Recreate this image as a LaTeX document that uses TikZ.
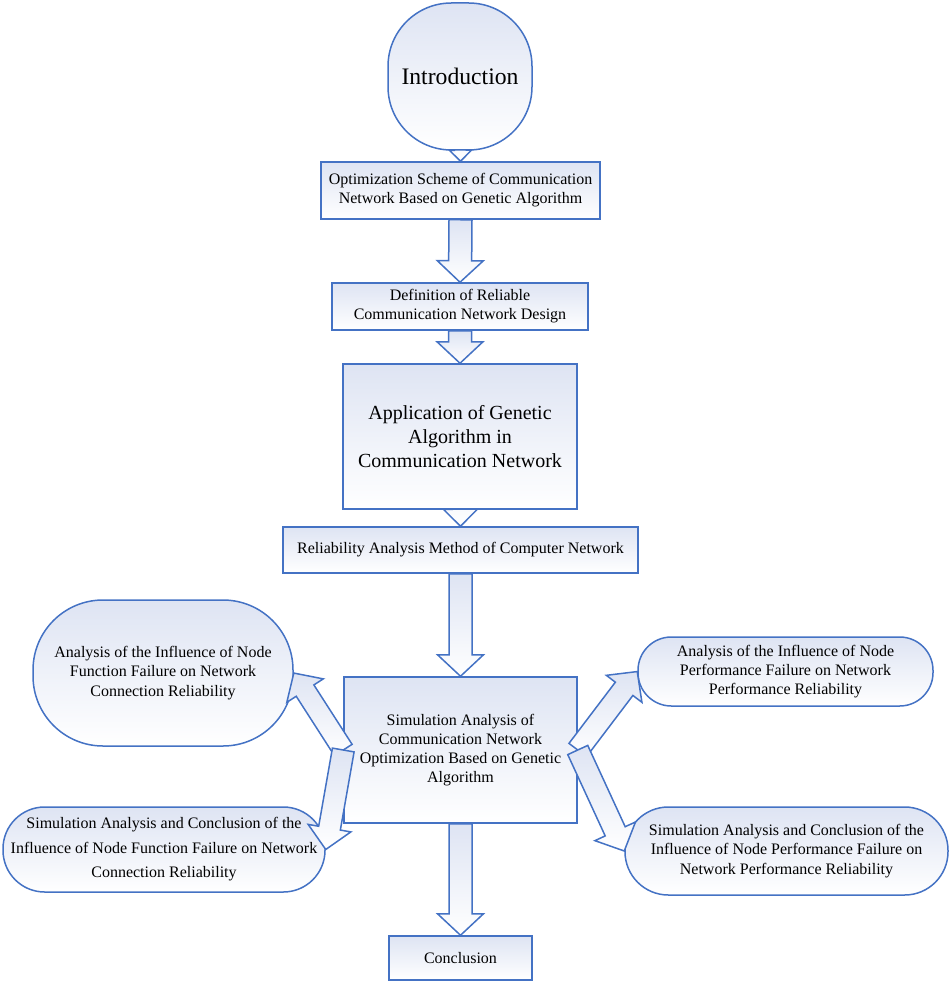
\documentclass[tikz,border=0pt]{standalone}
\usepackage{fontspec}
\setmainfont{Liberation Serif}
\usetikzlibrary{calc,backgrounds}

\definecolor{lineblue}{RGB}{68,114,196}
\definecolor{filltop}{RGB}{222,228,243}

\tikzset{
  box/.style={draw=lineblue, line width=0.9pt, top color=filltop, bottom color=white,
    align=center, inner sep=2pt, font=\fontsize{9.6}{11.5}\selectfont},
  roundbox/.style={box, rounded corners=#1},
  arrowbody/.style={draw=lineblue, line width=0.9pt, top color=filltop, bottom color=white,
    line join=miter},
}

% from, to, shaft half width, head half width, head length (in pt)
\newcommand{\blockarrow}[5]{%
  \draw[arrowbody] let \p1=($(#2)-(#1)$), \n1={atan2(\y1,\x1)}, \n2={veclen(\x1,\y1)} in
    [shift={(#1)}, rotate=\n1]
    (0pt,{#3*1pt}) -- ({(\n2-#5)*1pt},{#3*1pt}) -- ({(\n2-#5)*1pt},{#4*1pt})
    -- ({\n2*1pt},0pt) -- ({(\n2-#5)*1pt},{-#4*1pt}) -- ({(\n2-#5)*1pt},{-#3*1pt})
    -- (0pt,{-#3*1pt}) -- cycle;
}

\begin{document}
\begin{tikzpicture}[x=0.6pt, y=-0.6pt]
    \useasboundingbox (0,0) rectangle (950,983);

    \node[roundbox=38pt, minimum width=86.4pt, minimum height=88.2pt,
      font=\fontsize{14.2}{17}\selectfont] (intro) at (460,76.5) {Introduction};
    \node[box, minimum width=167.4pt, minimum height=34.2pt] (opt) at (460.5,190.5)
      {Optimization Scheme of Communication\\Network Based on Genetic Algorithm};
    \node[box, minimum width=153.6pt, minimum height=28.2pt] (defn) at (460,306.5)
      {Definition of Reliable\\Communication Network Design};
    \node[box, minimum width=140.4pt, minimum height=87pt,
      font=\fontsize{12}{14.5}\selectfont] (appl) at (460,436.5)
      {Application of Genetic\\Algorithm in\\Communication Network};
    \node[box, minimum width=213pt, minimum height=27.6pt] (relia) at (460.5,550)
      {Reliability Analysis Method of Computer Network};
    \node[box, minimum width=139.8pt, minimum height=87.6pt] (sim) at (460.5,750)
      {Simulation Analysis of\\Communication Network\\Optimization Based on Genetic\\Algorithm};
    \node[box, minimum width=85.8pt, minimum height=26.4pt] (concl) at (460.5,958) {Conclusion};

    \node[roundbox=42pt, minimum width=156pt, minimum height=87.6pt] (funcfail) at (163,673)
      {Analysis of the Influence of Node\\Function Failure on Network\\Connection Reliability};
    \node[roundbox=25pt, minimum width=193.2pt, minimum height=51pt,
      font=\fontsize{9.6}{14.7}\selectfont] (funcsim) at (164,849.5)
      {Simulation Analysis and Conclusion of the\\Influence of Node Function Failure on Network\\Connection Reliability};
    \node[roundbox=20pt, minimum width=177pt, minimum height=41.4pt] (perffail) at (785.5,671.5)
      {Analysis of the Influence of Node\\Performance Failure on Network\\Performance Reliability};
    \node[roundbox=26pt, minimum width=193.8pt, minimum height=52.8pt] (perfsim) at (786.5,851)
      {Simulation Analysis and Conclusion of the\\Influence of Node Performance Failure on\\Network Performance Reliability};

    \begin{scope}[on background layer]
        \blockarrow{intro.center}{opt.north}{3.6}{6.6}{6.6}
        \blockarrow{opt.south}{defn.north}{6.9}{13.8}{12.9}
        \blockarrow{defn.south}{appl.north}{6.9}{13.8}{12.9}
        \blockarrow{appl.center}{relia.north}{5}{10.2}{10.2}
        \blockarrow{relia.south}{sim.north}{6.9}{13.8}{12.9}
        \blockarrow{sim.south}{concl.north}{6.9}{13.8}{12.9}
    \end{scope}
    \blockarrow{sim.west}{funcfail.east}{6.3}{13}{12.5}
    \blockarrow{sim.west}{funcsim.east}{6.6}{13}{13}
    \blockarrow{sim.east}{perffail.west}{6.6}{13.4}{13}
    \blockarrow{sim.east}{perfsim.west}{6.6}{13.4}{13}
\end{tikzpicture}
\end{document}
